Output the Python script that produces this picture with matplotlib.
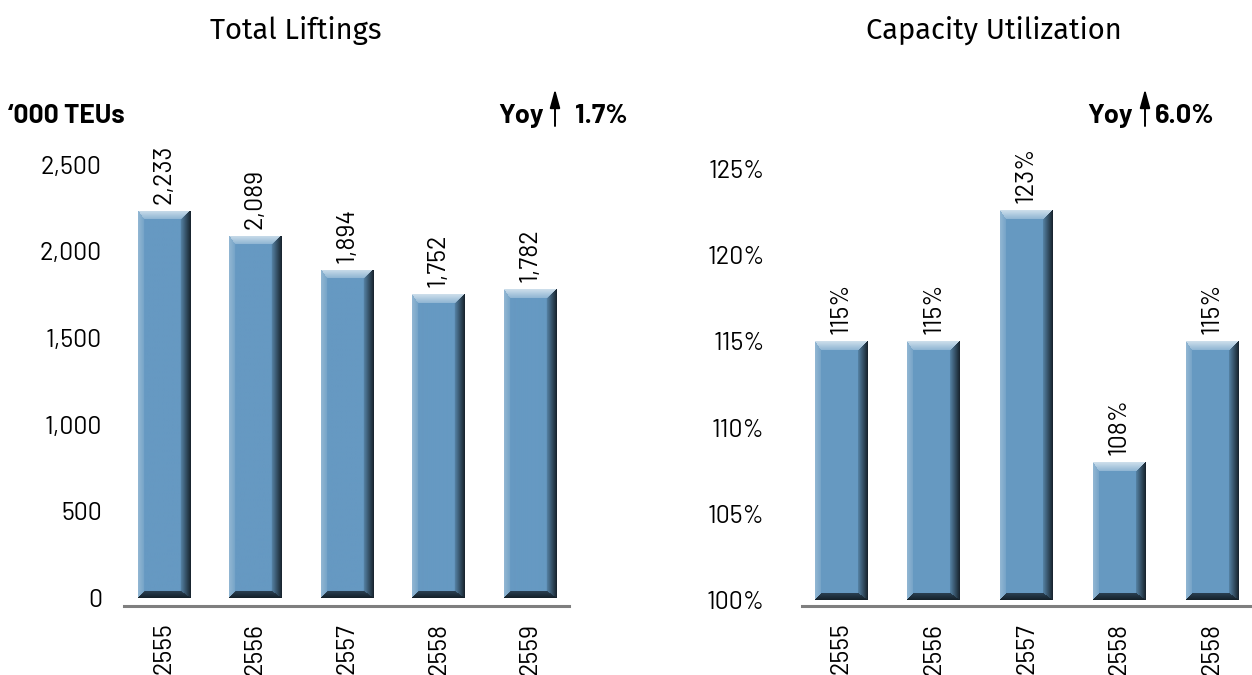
import numpy as np
import matplotlib
matplotlib.use("Agg")
import matplotlib.pyplot as plt
from matplotlib.patches import FancyArrowPatch
from matplotlib.colors import to_rgb

# ---------------- data ----------------
years_left = ["2555", "2556", "2557", "2558", "2559"]
liftings = [2233, 2089, 1894, 1752, 1782]
lift_labels = ["2,233", "2,089", "1,894", "1,752", "1,782"]
left_ticks = [0, 500, 1000, 1500, 2000, 2500]
left_tick_labels = ["0", "500", "1,000", "1,500", "2,000", "2,500"]

years_right = ["2555", "2556", "2557", "2558", "2558"]
utilization = [115, 115, 122.6, 108, 115]
util_labels = ["115%", "115%", "123%", "108%", "115%"]
right_ticks = [100, 105, 110, 115, 120, 125]
right_tick_labels = ["100%", "105%", "110%", "115%", "120%", "125%"]

# ---------------- layout helpers ----------------
W, H = 1252, 675
fig = plt.figure(figsize=(W / 100, H / 100), dpi=100)
FONT = ["Barlow", "DejaVu Sans"]
TFONT = ["Fira Sans", "DejaVu Sans"]
FS = 18

def px_axes(l, r, t, b):
    return fig.add_axes([l / W, 1 - b / H, (r - l) / W, (b - t) / H])

FACE = np.array(to_rgb("#6699c2"))
FAC = {
    "top": (np.array(to_rgb("#cfe0ec")), np.array(to_rgb("#8fb5d3")), 9.0),
    "bottom": (np.array(to_rgb("#142029")), np.array(to_rgb("#2a4052")), 7.0),
    "left": (np.array(to_rgb("#93b7d3")), np.array(to_rgb("#76a4c8")), 6.0),
    "right": (np.array(to_rgb("#16212a")), np.array(to_rgb("#5683a6")), 10.0),
}

def bevel_image(wpx, hpx):
    wpx = max(int(round(wpx)), 2)
    hpx = max(int(round(hpx)), 2)
    jj, ii = np.meshgrid(np.arange(wpx) + 0.5, np.arange(hpx) + 0.5)
    dists = {"top": ii, "bottom": hpx - ii, "left": jj, "right": wpx - jj}
    names = ["top", "bottom", "left", "right"]
    norm = np.stack([dists[n] / FAC[n][2] for n in names])
    idx = np.argmin(norm, axis=0)
    nmin = norm.min(axis=0)
    img = np.ones((hpx, wpx, 3)) * FACE
    for k, n in enumerate(names):
        edge, inner, _ = FAC[n]
        m = (idx == k) & (nmin < 1)
        t = nmin[m][:, None]
        img[m] = edge * (1 - t) + inner * t
    return img

def beveled_bars(ax, xs, vals, width, base):
    bars = ax.bar(xs, np.array(vals) - base, width, bottom=base, color=FACE, zorder=2)
    xl, yl = ax.get_xlim(), ax.get_ylim()
    for p in bars.patches:
        x0, y0 = p.get_x(), p.get_y()
        x1, y1 = x0 + p.get_width(), y0 + p.get_height()
        (px0, py0), (px1, py1) = ax.transData.transform([(x0, y0), (x1, y1)])
        img = bevel_image(abs(px1 - px0), abs(py1 - py0))
        im = ax.imshow(img, extent=[x0, x1, y0, y1], aspect="auto", zorder=3,
                       interpolation="bilinear", origin="upper")
        im.set_clip_path(p)
    ax.set_xlim(xl)
    ax.set_ylim(yl)
    return bars

def style_axes(ax, ypad):
    for s in ["top", "right", "left"]:
        ax.spines[s].set_visible(False)
    ax.spines["bottom"].set_color("#7f7f7f")
    ax.spines["bottom"].set_linewidth(2.2)
    ax.tick_params(axis="both", length=0)
    ax.tick_params(axis="y", pad=ypad)
    ax.tick_params(axis="x", pad=12)
    ax.patch.set_alpha(0)

def draw_chart(ax, xs, vals, labels, base, yticks, ytlabels, xtlabels):
    beveled_bars(ax, xs, vals, 0.57, base)
    ax.set_yticks(yticks, ytlabels, fontsize=FS, family=FONT)
    ax.set_xticks(xs, xtlabels, fontsize=FS, family=FONT, rotation=90)
    for x, v, lab in zip(xs, vals, labels):
        ax.annotate(lab, (x, v), xytext=(0, 5), textcoords="offset points",
                    rotation=90, ha="center", va="bottom", fontsize=FS, family=FONT)

# ---------------- left chart ----------------
axL = px_axes(124, 569, 130, 606)
xsL = np.arange(len(liftings))
axL.set_xlim(-0.437, 4.426)
axL.set_ylim(-46, 2700)
style_axes(axL, 16)
draw_chart(axL, xsL, liftings, lift_labels, 0, left_ticks, left_tick_labels, years_left)

# ---------------- right chart ----------------
axR = px_axes(802, 1252, 130, 606)
xsR = np.arange(len(utilization))
axR.set_xlim(-0.42, 4.43)
axR.set_ylim(99.65, 127.26)
style_axes(axR, 27)
draw_chart(axR, xsR, utilization, util_labels, 100, right_ticks, right_tick_labels, years_right)

# ---------------- titles & annotations ----------------
def ftext(x, y, s, **kw):
    fig.text(x / W, 1 - y / H, s, **kw)

ftext(296, 39, "Total Liftings", ha="center", va="baseline", fontsize=21, family=TFONT)
ftext(994, 39, "Capacity Utilization", ha="center", va="baseline", fontsize=21, family=TFONT)

ftext(8, 123, "\u2018000 TEUs", ha="left", va="baseline", fontsize=19,
      family=FONT, fontweight="bold")

def yoy(x_yoy_right, x_arrow, x_val_left, s):
    ftext(x_yoy_right, 123, "Yoy", ha="right", va="baseline", fontsize=19.5,
          family=FONT, fontweight="bold")
    fig.add_artist(FancyArrowPatch(
        (x_arrow / W, 1 - 126 / H), (x_arrow / W, 1 - 89 / H),
        transform=fig.transFigure, arrowstyle="-|>,head_length=0.8,head_width=0.22",
        mutation_scale=14, lw=1.4, color="black", shrinkA=0, shrinkB=0))
    ftext(x_val_left, 123, s, ha="left", va="baseline", fontsize=19.5,
          family=FONT, fontweight="bold")

yoy(544, 555, 575, "1.7%")
yoy(1133, 1145, 1155, "6.0%")

fig.savefig("out.png", dpi=100)
